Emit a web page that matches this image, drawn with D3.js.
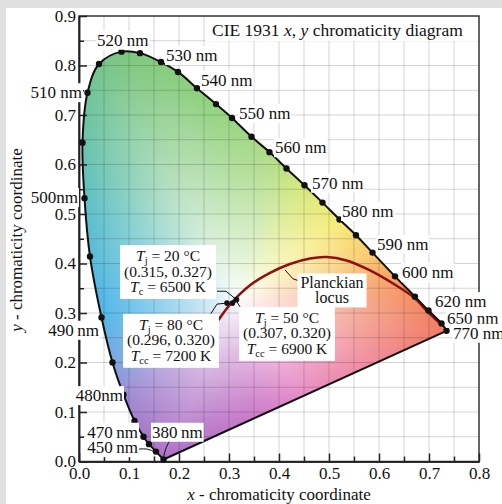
<!DOCTYPE html>
<html>
<head>
<meta charset="utf-8">
<script src="https://cdn.jsdelivr.net/npm/d3@7"></script>
<style>
body { margin: 0; background: #e0e0e0; }
svg { display: block; }
text { font-family: "Liberation Serif", "Times New Roman", serif; fill: #111; }
</style>
</head>
<body>
<svg id="chart"></svg>
<script>
// spectral locus (wavelength in nm, x, y)
var locusWl = [380, 450, 460, 470, 475, 480, 485, 490, 495, 500, 505, 510, 515, 520, 525, 530, 535, 540,
    545, 550, 555, 560, 565, 570, 575, 580, 585, 590, 600, 610, 620, 650, 770];
var locusX = [0.169, 0.154, 0.140, 0.129, 0.111, 0.089, 0.067, 0.045, 0.022, 0.011, 0.007, 0.017, 0.040, 0.085,
    0.122, 0.164, 0.198, 0.236, 0.274, 0.306, 0.345, 0.381, 0.415, 0.451, 0.487, 0.521, 0.554, 0.587, 0.632,
    0.672, 0.699, 0.725, 0.735];
var locusY = [0.004, 0.020, 0.035, 0.050, 0.082, 0.135, 0.200, 0.291, 0.414, 0.532, 0.644, 0.745, 0.803, 0.828,
    0.825, 0.807, 0.787, 0.754, 0.722, 0.694, 0.656, 0.625, 0.592, 0.558, 0.523, 0.489, 0.457, 0.422, 0.374,
    0.333, 0.305, 0.279, 0.264];

// Planckian locus as drawn
var planckX = [0.279, 0.302, 0.342, 0.382, 0.422, 0.462, 0.495, 0.535, 0.582, 0.629, 0.669, 0.695, 0.722];
var planckY = [0.286, 0.317, 0.356, 0.381, 0.399, 0.410, 0.413, 0.406, 0.386, 0.359, 0.332, 0.305, 0.279];

// LED measurements
var ledTemp = [20, 80, 50];
var ledX = [0.315, 0.296, 0.307];
var ledY = [0.327, 0.320, 0.320];
var ledCct = [6500, 7200, 6900];
var ledSub = ["c", "cc", "cc"];

// wavelength labels
var labelWl = [520, 530, 540, 550, 560, 570, 580, 590, 600, 620, 650, 770, 510, 500, 490, 480, 470, 450, 380];
var labelText = ["520 nm", "530 nm", "540 nm", "550 nm", "560 nm", "570 nm", "580 nm", "590 nm", "600 nm",
    "620 nm", "650 nm", "770 nm", "510 nm", "500nm", "490\u2009nm", "480nm", "470\u2009nm", "450\u2009nm", "380\u2009nm"];

// axis ticks
var xTicks = [0, 0.1, 0.2, 0.3, 0.4, 0.5, 0.6, 0.7, 0.8];
var yTicks = [0, 0.1, 0.2, 0.3, 0.4, 0.5, 0.6, 0.7, 0.8, 0.9];

// ---- layout (chart units) ----
var labelAt = [[0.036, 0.852], [0.174, 0.821], [0.244, 0.771], [0.320, 0.704], [0.392, 0.635], [0.466, 0.563],
    [0.526, 0.506], [0.596, 0.439], [0.646, 0.383], [0.712, 0.324], [0.736, 0.290], [0.748, 0.260],
    [0.006, 0.746], [-0.002, 0.534], [0.040, 0.266], [0.088, 0.134], [0.118, 0.060], [0.118, 0.029], [0.146, 0.060]];
var labelEnd = [false, false, false, false, false, false, false, false, false, false, false, false,
    true, true, true, true, true, true, false];
var boxAt = [[0.178, 0.416], [0.184, 0.277], [0.416, 0.291]];
var leaders = [
    [[0.276, 0.344], [0.294, 0.344], [0.315, 0.327]],
    [[0.262, 0.296], [0.276, 0.318], [0.296, 0.320]],
    [[0.314, 0.326], [0.328, 0.302], [0.342, 0.302]],
    [[0.412, 0.387], [0.428, 0.369], [0.446, 0.363]]
];

// hue around the white point, sampled off the picture's colour fill
var hueAngles = [-180, -172, -153, -140, -124, -115, -85, -57, -25, -9, 8, 19, 38, 60, 78, 101, 115, 126, 147, 172, 180];
var hueColors = ["#52b6e6", "#52b6e6", "#7aa6e0", "#9c8cd4", "#a676c8", "#ad70c6", "#c878c8", "#e68cc8", "#f08a9c",
    "#f07a62", "#f7a264", "#f9cc6c", "#f6ec78", "#d6e87c", "#b0dc88", "#8cd07c", "#7cc67e", "#70c49a", "#5ec0c6",
    "#54b8e0", "#52b6e6"];
var whitePoint = [0.32, 0.33];

var svg = d3.select("#chart").attr("width", 502).attr("height", 504);
svg.append("rect").attr("width", 502).attr("height", 504).attr("fill", "#e0e0e0");
svg.append("rect").attr("x", 6).attr("y", 8).attr("width", 496).attr("height", 496).attr("fill", "#fff");

var x = d3.scaleLinear().domain([0, 0.8]).range([79, 479]);
var y = d3.scaleLinear().domain([0, 0.9]).range([461.5, 16]);

var locus = locusX.map(function (v, i) { return [v, locusY[i]]; });
var planck = planckX.map(function (v, i) { return [v, planckY[i]]; });

var straight = d3.line().x(function (d) { return x(d[0]); }).y(function (d) { return y(d[1]); });
var smooth = d3.line().x(function (d) { return x(d[0]); }).y(function (d) { return y(d[1]); })
    .curve(d3.curveCatmullRom.alpha(0.5));

var locusPath = smooth(locus);
var gamutPath = locusPath + "L" + x(locus[0][0]) + "," + y(locus[0][1]) + "Z";

var defs = svg.append("defs");
defs.append("clipPath").attr("id", "gamut").append("path").attr("d", gamutPath);
defs.append("filter").attr("id", "soft").attr("x", "-5%").attr("y", "-5%").attr("width", "110%").attr("height", "110%")
    .append("feGaussianBlur").attr("stdDeviation", 3.5);

// ---- colour fill ----
var hue = d3.scaleLinear().domain(hueAngles).range(hueColors).interpolate(d3.interpolateRgb).clamp(true);
var edges = locus.concat([locus[0]]);

function edgeDist(dx, dy) {
    var best = Infinity;
    for (var i = 0; i < edges.length - 1; i++) {
        var p = edges[i], q = edges[i + 1];
        var ex = q[0] - p[0], ey = q[1] - p[1];
        var den = dx * ey - dy * ex;
        if (Math.abs(den) < 1e-12) continue;
        var wx = p[0] - whitePoint[0], wy = p[1] - whitePoint[1];
        var t = (wx * ey - wy * ex) / den;
        var u = (wx * dy - wy * dx) / den;
        if (t > 0 && u >= -0.001 && u <= 1.001 && t < best) best = t;
    }
    return best;
}

function cellColor(cx, cy) {
    var dx = cx - whitePoint[0], dy = cy - whitePoint[1];
    var d = Math.hypot(dx, dy);
    if (d < 1e-6) return "#fff";
    var s = Math.min(1, d / edgeDist(dx / d, dy / d));
    var ang = Math.atan2(dy, dx) * 180 / Math.PI;
    return d3.interpolateRgb("#ffffff", hue(ang))(Math.pow(s, 0.85));
}

var step = 0.01;
var cells = d3.cross(d3.range(-0.02, 0.77, step), d3.range(-0.02, 0.86, step));
var fill = svg.append("g").attr("clip-path", "url(#gamut)")
    .append("g").attr("filter", "url(#soft)");
fill.selectAll("rect").data(cells).join("rect")
    .attr("x", function (d) { return x(d[0] - step / 2); })
    .attr("y", function (d) { return y(d[1] + step / 2); })
    .attr("width", x(step) - x(0) + 0.6)
    .attr("height", y(0) - y(step) + 0.6)
    .attr("fill", function (d) { return cellColor(d[0], d[1]); });

// ---- grid ----
var grid = svg.append("g").attr("stroke", "#000").attr("stroke-opacity", 0.17).attr("stroke-width", 1);
grid.selectAll(".gx").data(d3.range(1, 16).map(function (i) { return i * 0.05; })).join("line")
    .attr("x1", function (d) { return x(d); }).attr("x2", function (d) { return x(d); })
    .attr("y1", y(0)).attr("y2", y(0.9));
grid.selectAll(".gy").data(d3.range(1, 18).map(function (i) { return i * 0.05; })).join("line")
    .attr("y1", function (d) { return y(d); }).attr("y2", function (d) { return y(d); })
    .attr("x1", x(0)).attr("x2", x(0.8));

// ---- title ----
svg.append("rect").attr("x", 205).attr("y", 17).attr("width", 273).attr("height", 24).attr("fill", "#fff");
var title = svg.append("text").attr("x", 212).attr("y", 36).attr("font-size", 17.5);
title.append("tspan").text("CIE 1931 ");
title.append("tspan").attr("font-style", "italic").text("x");
title.append("tspan").text(", ");
title.append("tspan").attr("font-style", "italic").text("y");
title.append("tspan").text(" chromaticity diagram");

// frame
svg.append("rect").attr("x", x(0)).attr("y", y(0.9)).attr("width", x(0.8) - x(0)).attr("height", y(0) - y(0.9))
    .attr("fill", "none").attr("stroke", "#333").attr("stroke-width", 1.5);

// ---- axes ----
function styleAxis(g) {
    g.attr("font-family", null).attr("font-size", 17);
    g.select(".domain").attr("stroke", "#222").attr("stroke-width", 1.5);
    g.selectAll(".tick line").attr("stroke", "#222").attr("stroke-width", 1.5);
    g.selectAll(".tick text").attr("fill", "#111");
}
var halves = d3.range(0, 9).map(function (i) { return i / 10 + 0.05; });
svg.append("g").attr("transform", "translate(0," + y(0) + ")")
    .call(d3.axisBottom(x).tickValues(halves.filter(function (v) { return v < 0.8; }))
        .tickSizeInner(-5).tickSizeOuter(0).tickFormat(""))
    .call(styleAxis);
svg.append("g").attr("transform", "translate(" + x(0) + ",0)")
    .call(d3.axisLeft(y).tickValues(halves).tickSizeInner(-5).tickSizeOuter(0).tickFormat(""))
    .call(styleAxis);
svg.append("g").attr("transform", "translate(0," + y(0) + ")")
    .call(d3.axisBottom(x).tickValues(xTicks).tickSizeInner(-8).tickSizeOuter(0).tickPadding(5)
        .tickFormat(d3.format(".1f")))
    .call(styleAxis);
svg.append("g").attr("transform", "translate(" + x(0) + ",0)")
    .call(d3.axisLeft(y).tickValues(yTicks).tickSizeInner(-8).tickSizeOuter(0).tickPadding(3)
        .tickFormat(d3.format(".1f")))
    .call(styleAxis);

var xl = svg.append("text").attr("x", 279).attr("y", 500).attr("text-anchor", "middle").attr("font-size", 17);
xl.append("tspan").attr("font-style", "italic").text("x");
xl.append("tspan").text(" - chromaticity  coordinate");
var yl = svg.append("text").attr("transform", "translate(22,240) rotate(-90)")
    .attr("text-anchor", "middle").attr("font-size", 17);
yl.append("tspan").attr("font-style", "italic").text("y");
yl.append("tspan").text(" - chromaticity  coordinate");

// ---- curves ----
svg.append("path").attr("d", smooth(planck)).attr("fill", "none")
    .attr("stroke", "#8e1010").attr("stroke-width", 2.5);
svg.append("path").attr("d", locusPath).attr("fill", "none").attr("stroke", "#111").attr("stroke-width", 2);
svg.append("path").attr("d", straight([locus[locus.length - 1], locus[0]])).attr("fill", "none")
    .attr("stroke", "#111").attr("stroke-width", 2);
svg.append("g").selectAll("circle").data(locus).join("circle")
    .attr("cx", function (d) { return x(d[0]); }).attr("cy", function (d) { return y(d[1]); })
    .attr("r", 3.2).attr("fill", "#111");

// small curved leaders for 380 and 450 nm
var q380 = [[0.185, 0.047], [0.172, 0.030], [0.169, 0.007]];
var q450 = [[0.119, 0.025], [0.140, 0.028], [0.152, 0.018]];
[q380, q450].forEach(function (q) {
    svg.append("path").attr("d", "M" + x(q[0][0]) + "," + y(q[0][1]) + "Q" + x(q[1][0]) + "," + y(q[1][1]) +
        " " + x(q[2][0]) + "," + y(q[2][1]))
        .attr("fill", "none").attr("stroke", "#111").attr("stroke-width", 1);
});

// leaders for the LED points and the Planckian label
leaders.forEach(function (l) {
    svg.append("path").attr("d", straight(l)).attr("fill", "none").attr("stroke", "#111").attr("stroke-width", 1);
});

// ---- boxed annotations ----
function boxed(g, padX, padY) {
    var bb = g.node().getBBox();
    g.insert("rect", ":first-child").attr("x", bb.x - padX).attr("y", bb.y - padY)
        .attr("width", bb.width + 2 * padX).attr("height", bb.height + 2 * padY).attr("fill", "#fff");
}

ledTemp.forEach(function (t, i) {
    var g = svg.append("g");
    var cx = x(boxAt[i][0]), cy = y(boxAt[i][1]);
    var txt = g.append("text").attr("text-anchor", "middle").attr("font-size", 15.5);
    var l1 = txt.append("tspan").attr("x", cx).attr("y", cy).attr("dy", "0.35em");
    l1.append("tspan").attr("font-style", "italic").text("T");
    l1.append("tspan").attr("font-size", 10.5).attr("dy", 3).text("j");
    l1.append("tspan").attr("dy", -3).text(" = " + t + " \u00b0C");
    txt.append("tspan").attr("x", cx).attr("y", cy + 15.5).attr("dy", "0.35em")
        .text("(" + ledX[i].toFixed(3) + ", " + ledY[i].toFixed(3) + ")");
    var l3 = txt.append("tspan").attr("x", cx).attr("y", cy + 31).attr("dy", "0.35em");
    l3.append("tspan").attr("font-style", "italic").text("T");
    l3.append("tspan").attr("font-size", 10.5).attr("dy", 3).text(ledSub[i]);
    l3.append("tspan").attr("dy", -3).text(" = " + ledCct[i] + " K");
    boxed(g, 4, 2);
});

var pg = svg.append("g");
var pt = pg.append("text").attr("text-anchor", "middle").attr("font-size", 16);
pt.append("tspan").attr("x", x(0.506)).attr("y", y(0.361)).attr("dy", "0.35em").text("Planckian");
pt.append("tspan").attr("x", x(0.506)).attr("y", y(0.361) + 15).attr("dy", "0.35em").text("locus");
boxed(pg, 3, 1);

// ---- wavelength labels ----
labelWl.forEach(function (w, i) {
    var g = svg.append("g");
    g.append("text").attr("x", x(labelAt[i][0])).attr("y", y(labelAt[i][1])).attr("dy", "0.35em")
        .attr("text-anchor", labelEnd[i] ? "end" : "start").attr("font-size", 17).text(labelText[i]);
    boxed(g, 1, 0);
});

// LED points on the Planckian locus
svg.append("g").selectAll("circle").data(ledX).join("circle")
    .attr("cx", function (d) { return x(d); }).attr("cy", function (d, i) { return y(ledY[i]); })
    .attr("r", 2.8).attr("fill", "#111");
</script>
</body>
</html>
